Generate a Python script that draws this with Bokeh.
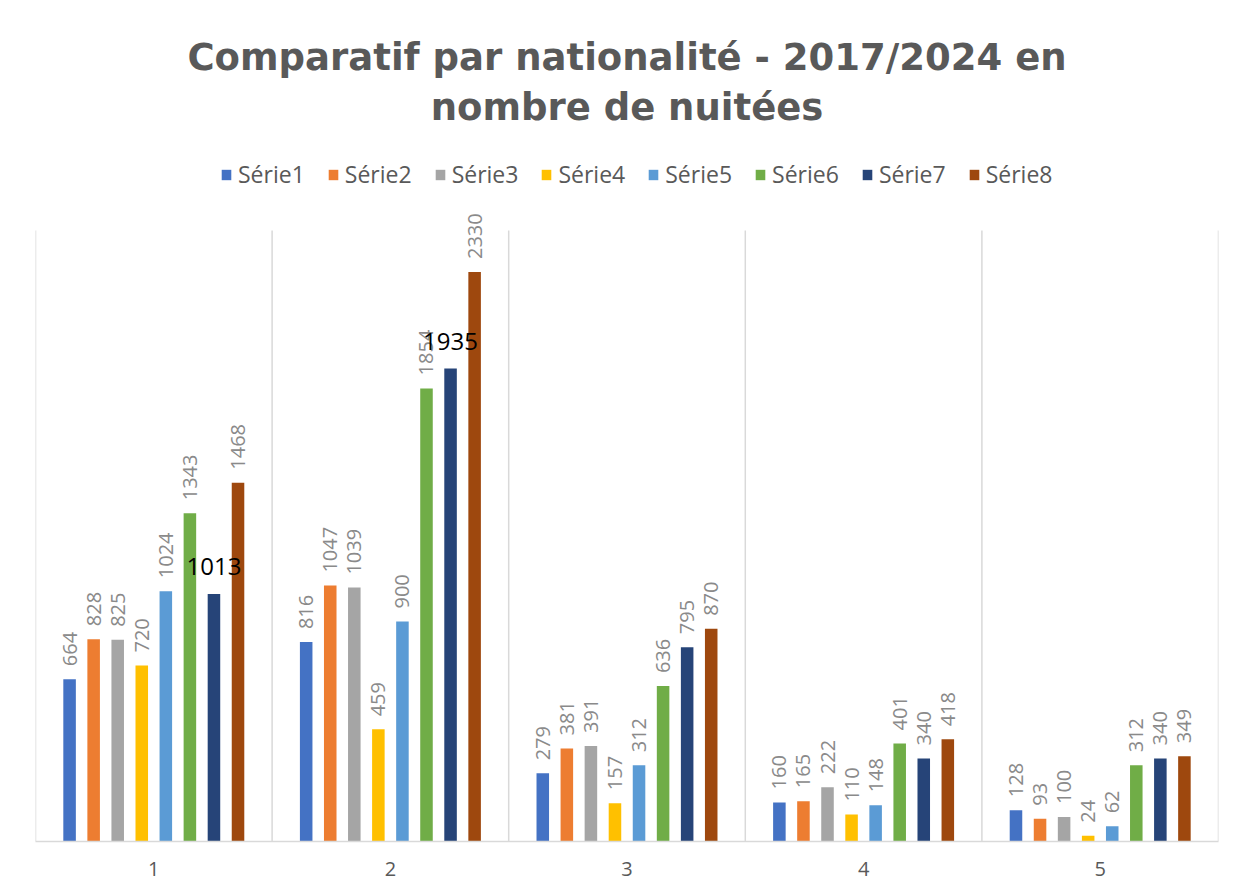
import math
from bokeh.plotting import figure
from bokeh.models import (ColumnDataSource, FixedTicker, Legend, LegendItem,
                          Label, Range1d)
from bokeh.transform import dodge
from bokeh.core.properties import value
from bokeh.embed import file_html
from bokeh.resources import INLINE

# ---------------- data ----------------
CATEGORIES = [1, 2, 3, 4, 5]
CATEGORY_LABELS = ["1", "2", "3", "4", "5"]
SERIES = ["Série1", "Série2", "Série3", "Série4",
          "Série5", "Série6", "Série7", "Série8"]
S1 = [664, 816, 279, 160, 128]
S2 = [828, 1047, 381, 165, 93]
S3 = [825, 1039, 391, 222, 100]
S4 = [720, 459, 157, 110, 24]
S5 = [1024, 900, 312, 148, 62]
S6 = [1343, 1854, 636, 401, 312]
S7 = [1013, 1935, 795, 340, 340]
S8 = [1468, 2330, 870, 418, 349]
VALUES = [S1, S2, S3, S4, S5, S6, S7, S8]
Y_MAX = 2500
# data labels shown horizontally in black (series name, category)
HIGHLIGHTED = [("Série7", 1), ("Série7", 2)]

TITLE_1 = "Comparatif par nationalité - 2017/2024 en"
TITLE_2 = "nombre de nuitées"

# ---------------- styles ----------------
COLORS = ["#4472C4", "#ED7D31", "#A5A5A5", "#FFC000",
          "#5B9BD5", "#70AD47", "#264478", "#9E480E"]
STEP = 0.1017
BAR_W = 0.053
GRAY_TXT = "#595959"
LABEL_GRAY = "#8a8a8a"
GRID = "#d9d9d9"
FRAME_W = 1183
PLOT_H = 611          # height of the bar area in px
FRAME_H = 833         # frame also covers the title/legend area
TOP = 8

p = figure(frame_width=FRAME_W, frame_height=FRAME_H,
           x_range=Range1d(0.5, 5.5),
           y_range=Range1d(0, Y_MAX * FRAME_H / PLOT_H),
           output_backend="svg", toolbar_location=None, title=None,
           min_border_left=35, min_border_right=20,
           min_border_bottom=46, min_border_top=TOP)
p.outline_line_color = None
p.background_fill_color = "white"
p.border_fill_color = "white"

# category separators (vertical grid) limited to the bar area
bounds = [c - 0.5 for c in CATEGORIES] + [CATEGORIES[-1] + 0.5]
p.segment(x0=bounds, y0=[0] * len(bounds), x1=bounds, y1=[Y_MAX] * len(bounds),
          line_color=GRID, line_width=1.5)

items = []
label_jobs = []
for i, (name, vals) in enumerate(zip(SERIES, VALUES)):
    off = (i - 3.5) * STEP
    src = ColumnDataSource(dict(x=CATEGORIES, top=vals))
    r = p.vbar(x=dodge("x", off), top="top", width=BAR_W, source=src,
               fill_color=COLORS[i], line_color=None)
    items.append(LegendItem(label=name, renderers=[r]))
    label_jobs.append((name, vals, off))

for name, vals, off in label_jobs:
    gx, gy, gt = [], [], []
    for c, v in zip(CATEGORIES, vals):
        if (name, c) not in HIGHLIGHTED:
            gx.append(c); gy.append(v); gt.append(str(v))
    gsrc = ColumnDataSource(dict(x=gx, y=gy, t=gt))
    p.text(x=dodge("x", off), y="y", text="t", source=gsrc,
           angle=math.pi / 2, text_align="left", text_baseline="middle",
           y_offset=-13, text_font=value("Open Sans"),
           text_font_size="20px", text_color=LABEL_GRAY)
for name, vals, off in label_jobs:
    hx, hy, ht = [], [], []
    for c, v in zip(CATEGORIES, vals):
        if (name, c) in HIGHLIGHTED:
            hx.append(c); hy.append(v); ht.append(str(v))
    if hx:
        hsrc = ColumnDataSource(dict(x=hx, y=hy, t=ht))
        p.text(x=dodge("x", off), y="y", text="t", source=hsrc,
               text_align="center", text_baseline="middle",
               y_offset=-27, text_font=value("Open Sans"),
               text_font_size="24px", text_color="#000000")

# axes
p.yaxis.visible = False
p.xaxis.ticker = FixedTicker(ticks=CATEGORIES)
p.xaxis.major_label_overrides = {c: l for c, l in zip(CATEGORIES, CATEGORY_LABELS)}
p.xaxis.major_tick_line_color = None
p.xaxis.minor_tick_line_color = None
p.xaxis.axis_line_color = GRID
p.xaxis.axis_line_width = 1.5
p.xaxis.major_label_text_font = "Open Sans"
p.xaxis.major_label_text_font_size = "20px"
p.xaxis.major_label_text_color = GRAY_TXT
p.xaxis.major_label_standoff = 14
p.xgrid.visible = False
p.ygrid.visible = False

legend = Legend(items=items, orientation="horizontal",
                location=(185, PLOT_H + 40),
                label_text_font="Open Sans", label_text_font_size="23px",
                label_text_color=GRAY_TXT, glyph_width=12, glyph_height=13,
                label_standoff=6, spacing=22, padding=0, margin=0,
                border_line_color=None, background_fill_alpha=0,
                label_height=26)
p.add_layout(legend, "center")

for t, dy in ((TITLE_1, 173), (TITLE_2, 123)):
    p.add_layout(Label(x=FRAME_W / 2, y=PLOT_H + dy, x_units="screen",
                       y_units="screen", text=t, text_align="center",
                       text_baseline="middle", text_font="DejaVu Sans",
                       text_font_style="bold", text_font_size="37px",
                       text_color=GRAY_TXT))

open("out.html", "w").write(file_html(p, INLINE))
